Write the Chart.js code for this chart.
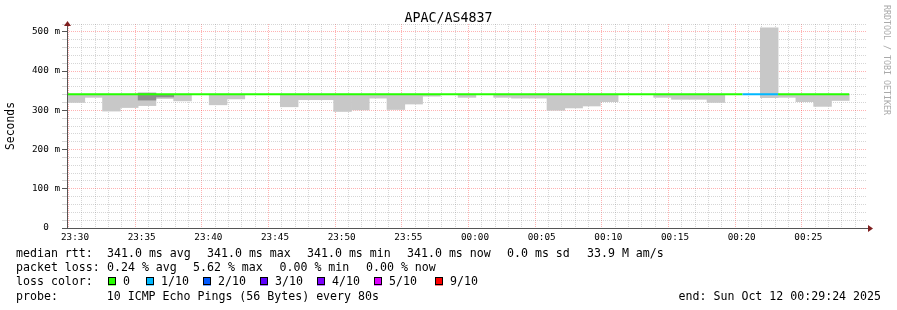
<!DOCTYPE html>
<html>
<head>
<meta charset="utf-8">
<title>APAC/AS4837</title>
<script src="https://cdn.jsdelivr.net/npm/chart.js@4.4.1/dist/chart.umd.min.js"></script>
<style>
  html, body { margin: 0; padding: 0; background: #fff; }
  #chart { display: block; }
</style>
</head>
<body>
<canvas id="chart" width="897" height="310"></canvas>
<script>
// one hour window, 80s steps, starting 23:29:24
const stepSeconds = 80;
const windowSeconds = 3600;
const firstTickOffset = 36; // 23:30:00 is 36s after the start
const tickLabels = ['23:30', '23:35', '23:40', '23:45', '23:50', '23:55',
                    '00:00', '00:05', '00:10', '00:15', '00:20', '00:25'];

// median rtt per step (ms)
const median = [341, 341, 341, 341, 341, 341, 341, 341, 341, 341, 341,
                341, 341, 341, 341, 341, 341, 341, 341, 341, 341, 341,
                341, 341, 341, 341, 341, 341, 341, 341, 341, 341, 341,
                341, 341, 341, 341, 341, 341, 341, 341, 341, 341, 341];
// lost pings out of 10, per step
const lossCount = [0, 0, 0, 0, 0, 0, 0, 0, 0, 0, 0,
                   0, 0, 0, 0, 0, 0, 0, 0, 0, 0, 0,
                   0, 0, 0, 0, 0, 0, 0, 0, 0, 0, 0,
                   0, 0, 0, 0, 0, 1, 1, 0, 0, 0, 0];
// smoke (spread of the pings), ms
const smokeLow = [320, 333, 298, 307, 312, 330, 324, null, 314, 329, null,
                  null, 309, 327, 327, 297, 301, 331, 302, 316, 336, null,
                  333, null, 333, 331, 331, 300, 306, 311, 322, null, null,
                  333, 328, 328, 320, null, null, 332, 333, 322, 310, 325];
const smokeHigh = [341, 341, 341, 341, 345, 341, 341, null, 341, 341, null,
                   null, 341, 341, 341, 341, 341, 341, 341, 341, 341, null,
                   341, null, 341, 341, 341, 341, 341, 341, 341, null, null,
                   341, 341, 341, 341, null, null, 510, 341, 341, 341, 341];
const smokeDarkLow = [null, null, null, null, 326, 334, null, null, null, null, null,
                      null, null, null, null, null, null, null, null, null, null, null,
                      null, null, null, null, null, null, null, null, null, null, null,
                      null, null, null, null, null, null, null, null, null, null, null];
const smokeDarkHigh = [null, null, null, null, 343, 339, null, null, null, null, null,
                       null, null, null, null, null, null, null, null, null, null, null,
                       null, null, null, null, null, null, null, null, null, null, null,
                       null, null, null, null, null, null, null, null, null, null, null];

const lossLevels = [0, 1, 2, 3, 4, 5, 9];
const lossLabels = ['0', '1/10', '2/10', '3/10', '4/10', '5/10', '9/10'];
const lossColors = ['#26ff00', '#00b8ff', '#0059ff', '#5e00ff', '#7e00ff', '#dd00ff', '#ff0000'];

const rttItems = ['median rtt:', '341.0 ms avg', '341.0 ms max', '341.0 ms min',
                  '341.0 ms now', '0.0 ms sd', '33.9 M am/s'];
const lossItems = ['packet loss:', '0.24 % avg', '5.62 % max', '0.00 % min', '0.00 % now'];
const probeLine = 'probe:       10 ICMP Echo Pings (56 Bytes) every 80s';
const endLine = 'end: Sun Oct 12 00:29:24 2025';

const mono = 'DejaVu Sans Mono';
const majorGrid = 'rgba(255,0,0,0.3)';
const minorGrid = 'rgba(128,128,128,0.32)';

function colorForLoss(n) {
  const i = lossLevels.indexOf(n);
  return i >= 0 ? lossColors[i] : lossColors[lossColors.length - 1];
}

function bars(lo, hi) {
  return lo.map((v, i) => ({
    x: i * stepSeconds + stepSeconds / 2,
    y: v === null ? null : [v, hi[i]]
  }));
}

function isMajorX(c) {
  if (!c.tick) return false;
  const k = Math.round((c.tick.value - firstTickOffset) / 60);
  return k % 5 === 0;
}
function isMajorY(c) {
  return c.tick ? c.tick.value % 100 === 0 : false;
}

const medianPoints = median.map((v, i) => ({ x: i * stepSeconds, y: v }));
medianPoints.push({ x: median.length * stepSeconds, y: median[median.length - 1] });

// plot is 800px wide, one bar per step
const barWidth = 800 * stepSeconds / windowSeconds;

const extras = {
  id: 'extras',
  afterDraw(chart) {
    const ctx = chart.ctx;
    const area = chart.chartArea;
    ctx.save();

    // axes
    ctx.strokeStyle = '#555';
    ctx.lineWidth = 1;
    ctx.beginPath();
    ctx.moveTo(area.left + 0.5, area.bottom + 1);
    ctx.lineTo(area.left + 0.5, area.top - 2);
    ctx.moveTo(area.left - 5, area.bottom + 0.5);
    ctx.lineTo(area.right + 2, area.bottom + 0.5);
    ctx.stroke();

    ctx.fillStyle = '#7f1f1f';
    ctx.beginPath();
    ctx.moveTo(area.left - 3, area.top + 2);
    ctx.lineTo(area.left + 4, area.top + 2);
    ctx.lineTo(area.left + 0.5, area.top - 3);
    ctx.fill();
    ctx.beginPath();
    ctx.moveTo(area.right + 1, area.bottom - 3);
    ctx.lineTo(area.right + 1, area.bottom + 4);
    ctx.lineTo(area.right + 6, area.bottom + 0.5);
    ctx.fill();

    // title
    ctx.fillStyle = '#000';
    ctx.font = '13.3px "' + mono + '"';
    ctx.textAlign = 'center';
    ctx.textBaseline = 'middle';
    ctx.fillText('APAC/AS4837', chart.width / 2, 19);

    // legend text
    ctx.font = '11.6px "' + mono + '"';
    ctx.textAlign = 'left';
    const rttX = [16, 107, 207, 307, 407, 507, 587];
    rttItems.forEach((s, i) => ctx.fillText(s, rttX[i], 253.5));
    const lossX = [16, 107, 193, 279.5, 366];
    lossItems.forEach((s, i) => ctx.fillText(s, lossX[i], 268));
    ctx.fillText('loss color:', 16, 282);
    ctx.fillText(probeLine, 16, 296.5);
    ctx.textAlign = 'right';
    ctx.fillText(endLine, 881, 296.5);

    const boxX = [108, 146, 203, 260, 317, 374, 435];
    ctx.textAlign = 'left';
    lossLabels.forEach((lab, i) => {
      ctx.fillStyle = lossColors[i];
      ctx.fillRect(boxX[i], 277.5, 8, 8);
      ctx.strokeStyle = '#000';
      ctx.strokeRect(boxX[i] + 0.5, 277.5, 7, 7);
      ctx.fillStyle = '#000';
      ctx.fillText(lab, boxX[i] + 15, 282);
    });

    // watermark
    ctx.translate(886, 5);
    ctx.rotate(Math.PI / 2);
    ctx.fillStyle = '#aaa';
    ctx.font = '8.3px "' + mono + '"';
    ctx.textAlign = 'left';
    ctx.textBaseline = 'middle';
    ctx.fillText('RRDTOOL / TOBI OETIKER', 0, 0);
    ctx.restore();
  }
};

new Chart(document.getElementById('chart'), {
  type: 'bar',
  data: {
    datasets: [
      {
        type: 'line',
        data: medianPoints,
        stepped: 'before',
        borderWidth: 2,
        pointRadius: 0,
        borderColor: '#26ff00',
        segment: {
          borderColor: c => colorForLoss(lossCount[c.p0DataIndex])
        }
      },
      {
        data: bars(smokeDarkLow, smokeDarkHigh),
        backgroundColor: '#8e8e8e',
        borderWidth: 0,
        grouped: false,
        barThickness: barWidth
      },
      {
        data: bars(smokeLow, smokeHigh),
        backgroundColor: '#c8c8c8',
        borderWidth: 0,
        grouped: false,
        barThickness: barWidth
      }
    ]
  },
  options: {
    responsive: false,
    animation: false,
    devicePixelRatio: 1,
    layout: { padding: { top: 24, right: 30, left: 0, bottom: 0 } },
    plugins: {
      legend: { display: false },
      tooltip: { enabled: false }
    },
    scales: {
      x: {
        type: 'linear',
        min: 0,
        max: windowSeconds,
        offset: false,
        afterBuildTicks: s => {
          s.ticks = [];
          for (let t = firstTickOffset; t < windowSeconds; t += 60) s.ticks.push({ value: t });
        },
        afterFit: s => { s.height = 82; },
        ticks: {
          autoSkip: false,
          maxRotation: 0,
          padding: 4,
          color: '#000',
          font: { family: mono, size: 9.3 },
          callback: v => {
            const k = Math.round((v - firstTickOffset) / 60);
            return k % 5 === 0 ? tickLabels[k / 5] : '';
          }
        },
        grid: {
          drawTicks: false,
          color: c => isMajorX(c) ? majorGrid : minorGrid
        },
        border: { color: '#555', dash: [1, 1] }
      },
      y: {
        min: 0,
        max: 520,
        afterBuildTicks: s => {
          s.ticks = [];
          for (let v = 0; v <= 520; v += 20) s.ticks.push({ value: v });
        },
        afterFit: s => { s.width = 67; },
        ticks: {
          autoSkip: false,
          padding: 2,
          color: '#000',
          font: { family: mono, size: 9.3 },
          callback: v => v % 100 ? '' : (v === 0 ? '0  ' : v + ' m')
        },
        grid: {
          tickLength: 5,
          color: c => isMajorY(c) ? majorGrid : minorGrid,
          tickColor: c => isMajorY(c) ? '#555' : minorGrid
        },
        // start the dotted rows with a gap so they don't tint the axis
        border: { color: '#555', dash: [1, 1], dashOffset: 1 },
        title: {
          display: true,
          text: 'Seconds',
          color: '#000',
          font: { family: mono, size: 11.4 },
          padding: { top: 4, bottom: 0 }
        }
      }
    }
  },
  plugins: [extras]
});
</script>
</body>
</html>
